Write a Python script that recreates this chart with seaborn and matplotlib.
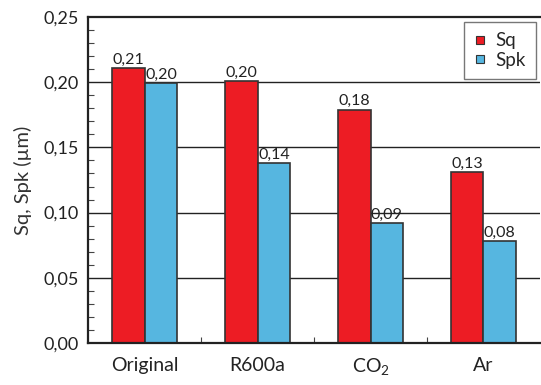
import numpy as np
import pandas as pd
import matplotlib
matplotlib.use("Agg")
import matplotlib.pyplot as plt
import seaborn as sns
from matplotlib.ticker import FuncFormatter, MultipleLocator, FixedLocator
from matplotlib.lines import Line2D

# Data
conditions = ["Original", "R600a", "CO$_\\mathregular{2}$", "Ar"]
sq_values = [0.211, 0.201, 0.179, 0.131]
spk_values = [0.199, 0.138, 0.092, 0.078]
sq_labels = ["0,21", "0,20", "0,18", "0,13"]
spk_labels = ["0,20", "0,14", "0,09", "0,08"]

df = pd.DataFrame({
    "cond": conditions * 2,
    "val": sq_values + spk_values,
    "param": ["Sq"] * 4 + ["Spk"] * 4,
})

palette = {"Sq": "#ED1C24", "Spk": "#56B6E0"}

sns.set_style("white")
plt.rcParams["font.family"] = ["Lato", "DejaVu Sans"]
plt.rcParams["mathtext.fontset"] = "custom"
plt.rcParams["mathtext.rm"] = "Lato"

fig = plt.figure(figsize=(5.41, 3.85), dpi=100)
ax = fig.add_axes([0.163, 0.109, 0.835, 0.847])

# Horizontal grid lines behind the bars
for g in [0.05, 0.10, 0.15, 0.20]:
    ax.axhline(g, color="#222222", lw=1.0, zorder=0)

sns.barplot(data=df, x="cond", y="val", hue="param", palette=palette,
            width=0.58, saturation=1, edgecolor="#333333", linewidth=1.2,
            legend=False, ax=ax, zorder=2)

# Value labels
for container, labels in zip(ax.containers, [sq_labels, spk_labels]):
    ax.bar_label(container, labels=labels, padding=1, fontsize=11.5,
                 color="#222222", zorder=3)

ax.set_xlim(-0.5, 3.5)
ax.set_ylim(0, 0.25)
ax.set_xlabel("")
ax.set_ylabel("Sq, Spk (µm)", fontsize=14.5, color="#333333", labelpad=8)

ax.yaxis.set_major_locator(MultipleLocator(0.05))
ax.yaxis.set_minor_locator(MultipleLocator(0.01))
ax.yaxis.set_major_formatter(FuncFormatter(lambda v, _: f"{v:.2f}".replace(".", ",")))
ax.xaxis.set_minor_locator(FixedLocator([0.5, 1.5, 2.5]))

ax.tick_params(axis="y", which="major", direction="in", length=0, labelsize=13,
               labelcolor="#222222", pad=7, left=False)
ax.tick_params(axis="y", which="minor", direction="in", length=4, width=0.8,
               color="#444444", left=True)
ax.tick_params(axis="x", which="major", length=0, labelsize=14,
               labelcolor="#222222", pad=10)
ax.tick_params(axis="x", which="minor", direction="in", length=4, width=0.8,
               color="#444444", bottom=True)

for side in ["left", "bottom", "top"]:
    ax.spines[side].set_visible(True)
    ax.spines[side].set_linewidth(1.6)
    ax.spines[side].set_color("#222222")
ax.spines["right"].set_visible(False)

handles = [Line2D([0], [0], marker="s", color="none", markersize=5.5,
                  markerfacecolor=palette[k], markeredgecolor="#333333",
                  markeredgewidth=0.8) for k in ["Sq", "Spk"]]
leg = ax.legend(handles, ["Sq", "Spk"], loc="upper right",
                bbox_to_anchor=(0.991, 0.985), borderaxespad=0, fontsize=13.5,
                frameon=True, fancybox=False, handlelength=0.6,
                handletextpad=0.5, labelspacing=0.15, borderpad=0.55,
                edgecolor="#555555")
leg.get_frame().set_linewidth(1.0)

fig.savefig("out.png", dpi=100)
